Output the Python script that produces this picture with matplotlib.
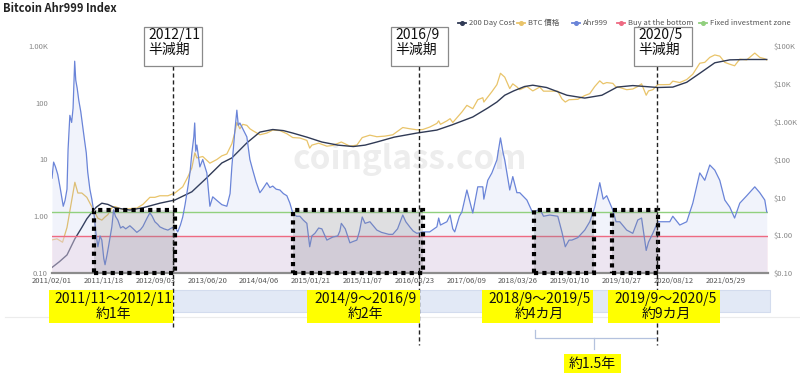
import matplotlib
matplotlib.use("Agg")
import matplotlib.pyplot as plt
import matplotlib.dates as mdates
from matplotlib.patches import Rectangle
from matplotlib.lines import Line2D
from matplotlib.transforms import blended_transform_factory
import pandas as pd

plt.rcParams['font.family'] = ['Noto Sans CJK JP', 'DejaVu Sans']

# ---------------- data ----------------
title = "Bitcoin Ahr999 Index"
legend_labels = ["200 Day Cost", "BTC 價格", "Ahr999", "Buy at the bottom", "Fixed investment zone"]

x_tick_labels = ["2011/02/01", "2011/11/18", "2012/09/03", "2013/06/20", "2014/04/06",
                 "2015/01/21", "2015/11/07", "2016/08/23", "2017/06/09", "2018/03/26",
                 "2019/01/10", "2019/10/27", "2020/08/12", "2021/05/29"]
left_tick_values = [0.1, 1, 10, 100, 1000]
left_tick_labels = ["0.10", "1.00", "10", "100", "1.00K"]
right_tick_values = [0.1, 1, 10, 100, 1000, 10000, 100000]
right_tick_labels = ["$0.10", "$1.00", "$10", "$100", "$1.00K", "$10K", "$100K"]

buy_bottom = 0.45
fixed_invest = 1.2

ahr_dates = [
    "2011-02-01", "2011-02-10", "2011-02-20", "2011-03-05", "2011-03-20", "2011-04-05", "2011-04-15",
    "2011-04-26", "2011-05-02", "2011-05-12", "2011-05-22", "2011-05-30", "2011-06-08", "2011-06-14",
    "2011-06-22", "2011-07-01", "2011-07-12", "2011-07-22", "2011-08-02", "2011-08-12", "2011-08-20",
    "2011-09-01", "2011-09-12", "2011-09-23", "2011-10-05", "2011-10-16", "2011-10-28", "2011-11-07",
    "2011-11-18", "2011-11-25", "2011-12-05", "2011-12-15", "2012-01-02", "2012-01-12", "2012-01-22",
    "2012-02-05", "2012-02-20", "2012-03-04", "2012-03-20", "2012-04-12", "2012-05-01", "2012-05-21",
    "2012-06-10", "2012-06-24", "2012-07-15", "2012-08-02", "2012-08-15", "2012-08-30", "2012-09-15",
    "2012-09-27", "2012-10-20", "2012-11-11", "2012-12-01", "2012-12-20", "2013-01-05", "2013-01-20",
    "2013-02-02", "2013-02-15", "2013-03-03", "2013-03-15", "2013-03-25", "2013-04-05", "2013-04-10",
    "2013-04-16", "2013-04-22", "2013-05-09", "2013-05-25", "2013-06-17", "2013-07-04", "2013-07-20",
    "2013-08-12", "2013-09-09", "2013-10-07", "2013-10-25", "2013-11-04", "2013-11-20", "2013-12-02",
    "2013-12-10", "2013-12-19", "2014-01-04", "2014-01-27", "2014-02-13", "2014-03-01", "2014-03-20",
    "2014-04-10", "2014-04-25", "2014-05-19", "2014-06-05", "2014-06-21", "2014-07-10", "2014-07-31",
    "2014-08-20", "2014-09-08", "2014-09-25", "2014-10-11", "2014-11-01", "2014-11-20", "2014-12-10",
    "2014-12-29", "2015-01-14", "2015-01-26", "2015-02-12", "2015-03-05", "2015-03-23", "2015-04-20",
    "2015-05-23", "2015-06-20", "2015-07-02", "2015-07-10", "2015-08-01", "2015-08-27", "2015-09-15",
    "2015-10-05", "2015-10-20", "2015-11-04", "2015-11-20", "2015-12-17", "2016-01-10", "2016-01-25",
    "2016-02-20", "2016-03-10", "2016-04-01", "2016-04-23", "2016-05-20", "2016-06-18", "2016-07-05",
    "2016-07-27", "2016-08-15", "2016-09-05", "2016-10-08", "2016-11-16", "2016-12-26", "2017-01-05",
    "2017-01-15", "2017-02-20", "2017-03-10", "2017-03-25", "2017-04-05", "2017-05-01", "2017-05-15",
    "2017-06-12", "2017-07-15", "2017-08-12", "2017-09-09", "2017-09-15", "2017-10-07", "2017-10-30",
    "2017-11-27", "2017-12-17", "2018-01-01", "2018-01-10", "2018-02-07", "2018-02-24", "2018-03-19",
    "2018-04-04", "2018-05-14", "2018-06-16", "2018-07-25", "2018-08-15", "2018-09-19", "2018-11-03",
    "2018-11-26", "2018-12-15", "2019-01-05", "2019-01-21", "2019-02-23", "2019-04-03", "2019-05-01",
    "2019-05-29", "2019-06-26", "2019-07-15", "2019-08-04", "2019-09-07", "2019-09-25", "2019-10-16",
    "2019-11-24", "2019-12-28", "2020-01-25", "2020-02-15", "2020-03-12", "2020-03-25", "2020-04-18",
    "2020-05-16", "2020-06-13", "2020-07-22", "2020-08-08", "2020-09-16", "2020-10-25", "2020-11-28",
    "2021-01-06", "2021-02-03", "2021-03-03", "2021-03-31", "2021-04-28", "2021-05-26", "2021-06-23",
    "2021-07-20", "2021-08-18", "2021-09-26", "2021-11-10", "2021-12-08", "2022-01-05", "2022-01-16"]
ahr_values = [
    4.7, 9.0, 7.5, 5.5, 3.0, 1.5, 1.9,
    3.0, 15, 60, 45, 80, 540, 250,
    180, 110, 70, 40, 22, 13, 6.0,
    3.0, 2.0, 1.2, 0.5, 0.29, 0.45, 0.38,
    0.18, 0.14, 0.2, 0.3, 0.65, 1.3, 1.0,
    0.85, 0.62, 0.66, 0.6, 0.68, 0.6, 0.52,
    0.58, 0.66, 0.9, 1.15, 1.0, 0.8, 0.72,
    0.65, 0.6, 0.57, 0.62, 0.65, 0.53, 0.7,
    0.97, 1.6, 3.3, 6.0, 13, 25, 44,
    14, 18, 7.4, 10, 5.8, 1.5, 2.2,
    1.9, 1.6, 1.5, 2.5, 7.4, 30, 74,
    40, 44, 35, 25, 10, 6.5, 4.0,
    2.6, 3.0, 3.9, 3.2, 3.4, 3.0, 2.9,
    2.5, 2.3, 1.7, 1.14, 1.0, 1.0, 0.85,
    0.75, 0.29, 0.45, 0.5, 0.62, 0.6, 0.38,
    0.43, 0.45, 0.55, 0.75, 0.6, 0.34, 0.36,
    0.38, 0.55, 0.97, 0.75, 0.8, 0.65, 0.57,
    0.52, 0.5, 0.48, 0.48, 0.6, 1.05, 0.8,
    0.65, 0.55, 0.5, 0.53, 0.53, 0.65, 0.93,
    0.7, 0.8, 1.05, 0.6, 0.53, 1.0, 1.19,
    2.9, 1.14, 3.3, 3.3, 2.0, 4.3, 5.8,
    9.8, 24, 13, 9.8, 2.9, 5.0, 2.6,
    2.6, 1.93, 1.14, 1.35, 1.0, 1.05, 1.0,
    0.53, 0.29, 0.38, 0.38, 0.42, 0.57, 0.8,
    1.45, 3.9, 2.0, 2.3, 1.29, 0.8, 0.8,
    0.57, 0.5, 0.86, 0.93, 0.25, 0.35, 0.5,
    0.8, 0.8, 0.8, 1.0, 0.7, 0.8, 1.7,
    5.8, 4.3, 8.0, 6.5, 4.3, 1.93, 1.45,
    0.93, 1.7, 2.3, 3.3, 2.6, 1.93, 1.19]

price_dates = [
    "2011-02-01", "2011-03-01", "2011-04-01", "2011-04-26", "2011-05-13", "2011-05-30", "2011-06-09",
    "2011-06-26", "2011-07-18", "2011-08-15", "2011-09-12", "2011-10-16", "2011-11-07", "2011-11-24",
    "2011-12-11", "2012-01-02", "2012-01-19", "2012-03-04", "2012-04-12", "2012-05-21", "2012-06-24",
    "2012-08-02", "2012-08-30", "2012-09-27", "2012-11-11", "2012-12-20", "2013-02-02", "2013-03-03",
    "2013-03-25", "2013-04-11", "2013-04-22", "2013-05-25", "2013-07-04", "2013-08-12", "2013-09-09",
    "2013-10-07", "2013-11-04", "2013-11-20", "2013-12-02", "2013-12-19", "2014-01-04", "2014-01-27",
    "2014-02-13", "2014-03-01", "2014-04-10", "2014-05-19", "2014-06-21", "2014-07-31", "2014-09-08",
    "2014-10-11", "2014-11-20", "2014-12-29", "2015-01-14", "2015-01-26", "2015-03-05", "2015-04-20",
    "2015-05-23", "2015-07-10", "2015-08-27", "2015-10-05", "2015-11-04", "2015-12-17", "2016-01-25",
    "2016-03-10", "2016-04-23", "2016-06-18", "2016-07-27", "2016-09-05", "2016-10-08", "2016-11-16",
    "2016-12-26", "2017-01-05", "2017-01-15", "2017-02-20", "2017-03-10", "2017-03-25", "2017-05-15",
    "2017-06-12", "2017-07-15", "2017-08-12", "2017-09-09", "2017-09-15", "2017-10-07", "2017-10-30",
    "2017-11-27", "2017-12-17", "2018-01-10", "2018-02-07", "2018-02-24", "2018-03-19", "2018-04-04",
    "2018-05-14", "2018-06-16", "2018-07-25", "2018-08-15", "2018-09-19", "2018-11-03", "2018-11-26",
    "2018-12-15", "2019-01-05", "2019-02-23", "2019-04-03", "2019-05-01", "2019-05-29", "2019-06-26",
    "2019-07-15", "2019-08-04", "2019-09-07", "2019-09-25", "2019-10-16", "2019-11-24", "2019-12-28",
    "2020-01-25", "2020-02-15", "2020-03-12", "2020-03-25", "2020-04-18", "2020-05-16", "2020-06-13",
    "2020-07-22", "2020-08-08", "2020-09-16", "2020-10-25", "2020-11-28", "2021-01-06", "2021-02-03",
    "2021-03-03", "2021-03-31", "2021-04-28", "2021-05-26", "2021-06-23", "2021-07-20", "2021-08-18",
    "2021-09-26", "2021-11-10", "2021-12-08", "2022-01-05", "2022-01-16"]
price_values = [
    0.75, 0.8, 0.65, 1.6, 4.6, 13, 25,
    13, 13, 10, 5.6, 2.8, 2.5, 3.0,
    3.5, 5.3, 5.7, 4.8, 5.0, 5.2, 6.5,
    10, 10, 11, 11, 13, 19, 35,
    60, 150, 110, 120, 80, 100, 125,
    140, 260, 500, 950, 650, 850, 800,
    650, 580, 450, 500, 600, 580, 480,
    380, 370, 320, 200, 240, 270, 225,
    235, 290, 225, 240, 380, 440, 400,
    415, 450, 700, 650, 610, 620, 720,
    900, 1050, 850, 1050, 1200, 950, 1800,
    2700, 2200, 3800, 4300, 3300, 4500, 6200,
    9500, 19000, 15000, 7500, 10000, 8300, 7000,
    8500, 6500, 8200, 6400, 6400, 6400, 4000,
    3300, 3800, 3900, 4900, 5500, 8500, 12000,
    10000, 10800, 10300, 8200, 8000, 7000, 7300,
    8500, 10000, 5000, 6500, 7000, 9500, 9500,
    9600, 11800, 10800, 13000, 18000, 35000, 37000,
    50000, 58000, 54000, 37000, 33000, 30000, 45000,
    43000, 65000, 50000, 46000, 43000]

cost_dates = [
    "2011-02-01", "2011-03-15", "2011-04-26", "2011-06-09", "2011-07-18", "2011-08-15", "2011-09-12",
    "2011-10-07", "2011-11-07", "2011-12-11", "2012-01-19", "2012-04-12", "2012-06-24", "2012-09-27",
    "2012-12-20", "2013-03-25", "2013-06-17", "2013-09-09", "2013-11-04", "2014-01-27", "2014-04-10",
    "2014-06-21", "2014-08-20", "2014-10-11", "2014-12-29", "2015-03-23", "2015-06-20", "2015-09-15",
    "2015-11-20", "2016-01-25", "2016-05-01", "2016-09-05", "2016-12-26", "2017-03-20", "2017-07-15",
    "2017-10-07", "2017-11-27", "2018-01-10", "2018-03-01", "2018-05-01", "2018-06-16", "2018-09-01",
    "2018-12-24", "2019-04-03", "2019-07-08", "2019-10-01", "2019-12-28", "2020-05-16", "2020-08-08",
    "2020-10-25", "2021-01-06", "2021-03-31", "2021-06-23", "2021-09-26", "2022-01-16"]
cost_values = [
    0.14, 0.2, 0.3, 0.8, 1.6, 2.7, 4.0,
    5.5, 7.0, 6.5, 5.3, 4.6, 5.3, 7.0,
    8.5, 14, 33, 81, 110, 275, 530,
    620, 580, 500, 390, 290, 240, 220,
    240, 290, 390, 500, 600, 820, 1330,
    2300, 3300, 5000, 6500, 8500, 9200, 8000,
    5000, 4200, 5000, 8200, 9000, 8000, 8200,
    11000, 19000, 36000, 43000, 44000, 44000]

halving_dates = ["2012-12-08", "2016-09-18", "2020-05-11"]
halving_labels = ["2012/11\n半減期", "2016/9\n半減期", "2020/5\n半減期"]

zone_starts = ["2011-09-23", "2014-10-11", "2018-06-22", "2019-09-02"]
zone_ends = ["2012-12-18", "2016-10-08", "2019-05-24", "2020-05-17"]
zone_top = 1.3
zone_labels = ["2011/11～2012/11\n約1年", "2014/9～2016/9\n約2年",
               "2018/9～2019/5\n約4カ月", "2019/9～2020/5\n約9カ月"]
gap_label = "約1.5年"
watermark = "coinglass.com"

# ---------------- colours ----------------
C_COST = "#303a55"
C_PRICE = "#e9c46a"
C_AHR = "#6a84d8"
C_RED = "#ee6a82"
C_GREEN = "#91d07e"

W, H = 800, 381
fig = plt.figure(figsize=(W / 100, H / 100), dpi=100)
fig.patch.set_facecolor("white")


def fxy(px, py):
    return px / W, 1 - py / H


ax_l, ax_r, ax_t, ax_b = 52, 768, 46, 273
ax = fig.add_axes([ax_l / W, 1 - ax_b / H, (ax_r - ax_l) / W, (ax_b - ax_t) / H])
ax2 = ax.twinx()
ax.set_zorder(ax2.get_zorder() + 1)
ax.patch.set_visible(False)
ax2.patch.set_visible(False)

ad = pd.to_datetime(ahr_dates)
pdates = pd.to_datetime(price_dates)
cd = pd.to_datetime(cost_dates)

# Ahr999 axis
ax.set_yscale("log")
ax.set_ylim(0.1, 1000)
ax.fill_between(ad, ahr_values, 0.1, color=C_AHR, alpha=0.09, lw=0, zorder=1)
ax.axhspan(0.1, buy_bottom, color="#f7dbe6", alpha=0.42, lw=0, zorder=0.5)
ax.plot(ad, ahr_values, color=C_AHR, lw=0.9, zorder=3)
ax.axhline(fixed_invest, color=C_GREEN, lw=1.0, zorder=2)
ax.axhline(buy_bottom, color=C_RED, lw=1.0, zorder=2)

# price axis
ax2.set_yscale("log")
ax2.set_ylim(0.1, 100000)
ax2.plot(pdates, price_values, color=C_PRICE, lw=0.9, zorder=2)
ax2.plot(cd, cost_values, color=C_COST, lw=1.0, zorder=3)
ax2.text(0.50, 0.50, watermark, transform=ax2.transAxes, fontsize=24, fontweight="bold",
         color="#ededed", ha="center", va="center", zorder=0)

x0 = pd.Timestamp("2011-02-01")
x1 = pd.Timestamp("2022-01-23")
ax.set_xlim(x0, x1)

ticks = pd.to_datetime(x_tick_labels, format="%Y/%m/%d")
ax.set_xticks(ticks)
ax.set_xticklabels(x_tick_labels, fontsize=5.5, color="#555555")
ax.tick_params(axis="x", length=0, pad=3)
ax.minorticks_off()
ax.set_yticks(left_tick_values)
ax.set_yticklabels(left_tick_labels, fontsize=5.5, color="#888888")
ax.tick_params(axis="y", length=0, pad=3, which="both")
ax.yaxis.set_minor_locator(matplotlib.ticker.NullLocator())
ax2.set_yticks(right_tick_values)
ax2.set_yticklabels(right_tick_labels, fontsize=5.5, color="#888888")
ax2.tick_params(axis="y", length=0, pad=4, which="both")
ax2.yaxis.set_minor_locator(matplotlib.ticker.NullLocator())

for a in (ax, ax2):
    for s in ("top", "left", "right"):
        a.spines[s].set_visible(False)
ax2.spines["bottom"].set_visible(False)
ax.spines["bottom"].set_color("#8c8c8c")
ax.spines["bottom"].set_linewidth(1.6)

# dotted zones
for s, e in zip(zone_starts, zone_ends):
    xs = mdates.date2num(pd.Timestamp(s))
    xe = mdates.date2num(pd.Timestamp(e))
    ax.add_patch(Rectangle((xs, 0.1), xe - xs, zone_top - 0.1, facecolor=(0.55, 0.55, 0.58, 0.28),
                           edgecolor="none", zorder=4, clip_on=False))
    ax.add_patch(Rectangle((xs, 0.1), xe - xs, zone_top - 0.1, facecolor="none",
                           edgecolor="black", lw=3.0, linestyle=(0, (1, 1)), zorder=6, clip_on=False))

# data zoom band & separator
fig.patches.append(Rectangle(fxy(52, 312), (770 - 52) / W, 22 / H, transform=fig.transFigure,
                             facecolor="#e2e9f6", edgecolor="#d3dcee", lw=0.8, zorder=1))
fig.lines.append(Line2D([5 / W, 1], [1 - 317 / H] * 2, transform=fig.transFigure,
                        color="#ececec", lw=0.8, zorder=1))

# halving lines + label boxes
btrans = blended_transform_factory(ax.transData, fig.transFigure)
line_bottoms = [327, 345, 345]
label_boxes = [(144, 202), (391, 448), (634, 692)]
for d, lab, yb, (bx0, bx1) in zip(halving_dates, halving_labels, line_bottoms, label_boxes):
    xd = mdates.date2num(pd.Timestamp(d))
    fig.add_artist(Line2D([xd, xd], [1 - 66 / H, 1 - yb / H], transform=btrans,
                          color="#222222", lw=1.0, linestyle=(0, (3, 2)), zorder=2))
    fig.patches.append(Rectangle(fxy(bx0, 66), (bx1 - bx0) / W, 39 / H, transform=fig.transFigure,
                                 facecolor="white", edgecolor="#8a8a8a", lw=0.9, zorder=3))
    fig.text(*fxy(bx0 + 4, 28.5), lab, fontsize=10, color="#111111", ha="left", va="top",
             linespacing=1.05, zorder=4)

# yellow annotation boxes
ybox = [(49, 173), (307, 420), (482, 593), (608, 720)]
for (bx0, bx1), lab in zip(ybox, zone_labels):
    fig.patches.append(Rectangle(fxy(bx0, 323), (bx1 - bx0) / W, 33 / H, transform=fig.transFigure,
                                 facecolor="#ffff00", edgecolor="none", zorder=3))
    fig.text(*fxy((bx0 + bx1) / 2 + 2, 306.5), lab, fontsize=10, color="#111111", ha="center",
             va="center", linespacing=1.05, zorder=4)

# bracket + gap label
fig.lines.append(Line2D([535 / W, 535 / W, 656 / W], [1 - 330 / H, 1 - 338 / H, 1 - 338 / H],
                        transform=fig.transFigure, color="#b4c2de", lw=0.9, zorder=2))
fig.lines.append(Line2D([594 / W, 594 / W], [1 - 338 / H, 1 - 349 / H],
                        transform=fig.transFigure, color="#b4c2de", lw=0.9, zorder=2))
fig.patches.append(Rectangle(fxy(564, 373), 57 / W, 19 / H, transform=fig.transFigure,
                             facecolor="#ffff00", edgecolor="none", zorder=3))
fig.text(*fxy(592.5, 363.5), gap_label, fontsize=10, color="#111111", ha="center", va="center", zorder=4)

# title
fig.text(*fxy(3, 2), title, fontsize=8, fontweight="bold", color="#222222", ha="left", va="top")

# legend
leg_colors = [C_COST, C_PRICE, C_AHR, C_RED, C_GREEN]
leg_x = [458, 517, 572, 617, 699]
for lx, col, lab in zip(leg_x, leg_colors, legend_labels):
    fig.lines.append(Line2D([lx / W, (lx + 8) / W], [1 - 23 / H] * 2, transform=fig.transFigure,
                            color=col, lw=1.3))
    fig.lines.append(Line2D([(lx + 4) / W], [1 - 23 / H], transform=fig.transFigure,
                            marker="o", ms=2.6, color=col, lw=0))
    fig.text(*fxy(lx + 11, 23), lab, fontsize=5.5, color="#555555", ha="left", va="center")

fig.savefig("out.png", dpi=100)
